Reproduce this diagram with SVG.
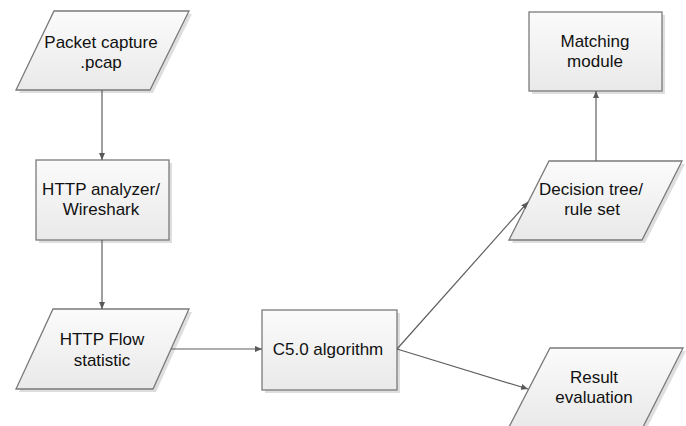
<svg xmlns="http://www.w3.org/2000/svg" width="686" height="426" viewBox="0 0 686 426">
<defs>
<linearGradient id="g" x1="0" y1="0" x2="0" y2="1">
<stop offset="0" stop-color="#fbfbfb"/>
<stop offset="1" stop-color="#e9e9e9"/>
</linearGradient>
<marker id="ah" markerWidth="8" markerHeight="6" refX="7" refY="3" orient="auto" markerUnits="userSpaceOnUse">
<path d="M0,0 L7,3 L0,6 z" fill="#595959"/>
</marker>
</defs>
<style>
.sh{fill:#dedede}
.nd{fill:url(#g);stroke:#7a7a7a;stroke-width:1.3}
.tx{font-family:"Liberation Sans",Arial,sans-serif;font-size:17px;fill:#111;text-anchor:middle}
.cn{stroke:#5f5f5f;stroke-width:1.2;fill:none;marker-end:url(#ah)}
</style>
<rect width="686" height="426" fill="#fff"/>
<g id="packet-capture">
<polygon class="sh" points="57,14 192,14 153,93 19,93"/>
<polygon class="nd" points="54,11 189,11 150,90 16,90"/>
<text class="tx" x="101" y="48">Packet capture</text>
<text class="tx" x="101" y="68">.pcap</text>
</g>
<g id="http-analyzer">
<rect class="sh" x="39" y="163" width="133" height="80"/>
<rect class="nd" x="36" y="160" width="133" height="80"/>
<text class="tx" x="101" y="195">HTTP analyzer/</text>
<text class="tx" x="101" y="215">Wireshark</text>
</g>
<g id="http-flow">
<polygon class="sh" points="56,312 192,312 156,392 19,392"/>
<polygon class="nd" points="53,309 189,309 153,389 16,389"/>
<text class="tx" x="102" y="345">HTTP Flow</text>
<text class="tx" x="102" y="366">statistic</text>
</g>
<g id="c50">
<rect class="sh" x="265" y="313" width="135" height="80"/>
<rect class="nd" x="262" y="310" width="135" height="80"/>
<text class="tx" x="328" y="355">C5.0 algorithm</text>
</g>
<g id="decision-tree">
<polygon class="sh" points="552,164 685,164 645,243 512,243"/>
<polygon class="nd" points="549,161 682,161 642,240 509,240"/>
<text class="tx" x="591" y="195">Decision tree/</text>
<text class="tx" x="592" y="215">rule set</text>
</g>
<g id="matching-module">
<rect class="sh" x="532" y="15" width="133" height="79"/>
<rect class="nd" x="529" y="12" width="133" height="79"/>
<text class="tx" x="595" y="47">Matching</text>
<text class="tx" x="595" y="67">module</text>
</g>
<g id="result-evaluation">
<polygon class="sh" points="553,351 686,351 646,430 512,430"/>
<polygon class="nd" points="550,348 683,348 643,427 509,427"/>
<text class="tx" x="594" y="383">Result</text>
<text class="tx" x="594" y="403">evaluation</text>
</g>
<g id="connectors">
<line class="cn" x1="102" y1="90" x2="102" y2="160"/>
<line class="cn" x1="102" y1="240" x2="102" y2="309"/>
<line class="cn" x1="171" y1="349" x2="262" y2="349"/>
<line class="cn" x1="397" y1="349" x2="528" y2="202"/>
<line class="cn" x1="397" y1="349" x2="528" y2="389"/>
<line class="cn" x1="596" y1="161" x2="596" y2="91"/>
</g>
</svg>
